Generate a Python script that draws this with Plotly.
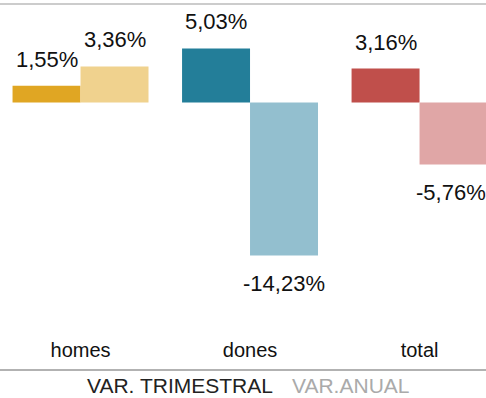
import plotly.graph_objects as go

categories = ["homes", "dones", "total"]
var_trimestral = [1.55, 5.03, 3.16]
var_anual = [3.36, -14.23, -5.76]
legend_labels = ["VAR. TRIMESTRAL", "VAR.ANUAL"]

colors_trimestral = ["#E0A623", "#237E99", "#C04F4B"]
colors_anual = ["#F0D28E", "#93BFCF", "#E0A6A6"]

FONT = "Liberation Sans, Arial, sans-serif"

PLOT_H = 336  # plot area height in px


def fmt(v):
    return f"{v:.2f}".replace(".", ",") + "%"


fig = go.Figure()
fig.add_bar(x=categories, y=var_trimestral, marker_color=colors_trimestral,
            marker_line_width=0, name=legend_labels[0], offsetgroup=0)
fig.add_bar(x=categories, y=var_anual, marker_color=colors_anual,
            marker_line_width=0, name=legend_labels[1], offsetgroup=1)

# value labels above positive bars, below negative ones
annotations = []
for series, off in ((var_trimestral, -0.2006), (var_anual, 0.2006)):
    for i, v in enumerate(series):
        edge = (off > 0 and i == len(series) - 1)
        annotations.append(dict(
            x=i + off, y=v, xref="x", yref="y", text=fmt(v), showarrow=False,
            yanchor="bottom" if v >= 0 else "top",
            yshift=12 if v >= 0 else -14,
            xshift=-3 if edge else 0,
            font=dict(family=FONT, size=22, color="#111111"),
        ))


def py(px):
    # paper y coordinate from a pixel row measured from the top
    return (PLOT_H - px) / PLOT_H


# legend rendered as coloured text
annotations.append(dict(x=275 / 486, y=py(385), xref="paper", yref="paper",
                        text=legend_labels[0], showarrow=False, xanchor="right",
                        yanchor="middle", font=dict(family=FONT, size=21, color="#222222")))
annotations.append(dict(x=290 / 486, y=py(385), xref="paper", yref="paper",
                        text=legend_labels[1], showarrow=False, xanchor="left",
                        yanchor="middle", font=dict(family=FONT, size=21, color="#AAAAAA")))

shapes = [
    dict(type="line", xref="paper", yref="paper", x0=0, x1=1, y0=py(370), y1=py(370),
         line=dict(color="#999999", width=1.5)),
    dict(type="line", xref="paper", yref="paper", x0=0, x1=1, y0=py(4), y1=py(4),
         line=dict(color="#BBBBBB", width=1.5)),
]

fig.update_layout(
    width=486, height=398,
    margin=dict(l=0, r=0, t=0, b=398 - PLOT_H),
    paper_bgcolor="white", plot_bgcolor="white",
    showlegend=False,
    barmode="group", bargap=0.198, bargroupgap=0.0,
    annotations=annotations, shapes=shapes,
    xaxis=dict(range=[-0.475, 2.392], showgrid=False, zeroline=False, showline=False,
               ticks="", tickfont=dict(family=FONT, size=20, color="#111111")),
    yaxis=dict(range=[-(PLOT_H - 102.5) / 10.75, 102.5 / 10.75], visible=False,
               showgrid=False, zeroline=False),
)

fig.write_html("out.html")
